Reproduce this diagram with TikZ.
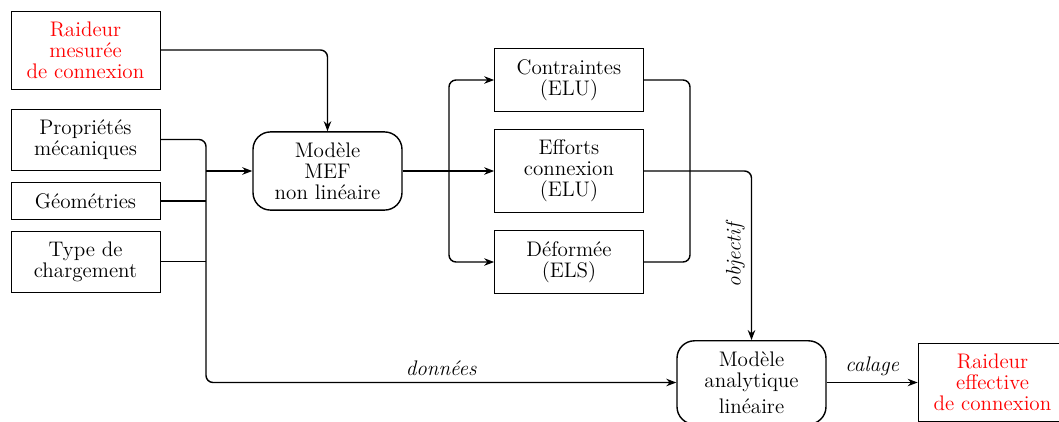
\documentclass[tikz,border=0pt]{standalone}
\usepackage{xcolor}
\usepackage{tikz}
\usetikzlibrary{arrows.meta,positioning,calc}

\begin{document}
\begin{tikzpicture}[
  every node/.style={font=\fontsize{12}{12}\selectfont},
  boite/.style={draw,align=center,minimum width=2.98cm,inner xsep=3pt,inner ysep=6pt},
  boitearrondie/.style={draw,thick,rounded corners=3.5mm,align=center,minimum width=2.98cm,inner xsep=3pt,inner ysep=6pt},
  ligne/.style={thick,rounded corners=4pt},
  fleche/.style={thick,rounded corners=4pt,-{Stealth[length=2mm]}},
  etiq/.style={font=\fontsize{12}{12}\selectfont\itshape}]
  \useasboundingbox (0,0) rectangle (21.18,-8.42);
  % entrees
  \node[boite,text=red] (mesuree) at (1.71,-1.00) {Raideur\\mesurée\\de connexion};
  \node[boite] (proprietes) at (1.71,-2.79) {Propriétés\\mécaniques};
  \node[boite] (geometries) at (1.71,-4.02) {Géométries};
  \node[boite] (chargement) at (1.71,-5.23) {Type de\\chargement};
  % modeles
  \node[boitearrondie] (mef) at (6.55,-3.42) {Modèle\\MEF\\non linéaire};
  \node[boitearrondie] (analytique) at (15.03,-7.65) {Modèle\\analytique\\[3pt]linéaire};
  % sorties
  \node[boite] (contraintes) at (11.38,-1.60) {Contraintes\\(ELU)};
  \node[boite] (efforts) at (11.38,-3.42) {Efforts\\connexion\\(ELU)};
  \node[boite] (deformee) at (11.38,-5.24) {Déformée\\(ELS)};
  \node[boite,text=red] (effective) at (19.85,-7.65) {Raideur\\effective\\de connexion};
  \coordinate (jonction) at (4.12,-3.42);
  \coordinate (split) at (8.98,-3.42);
  \coordinate (crochet) at (13.80,-3.42);
  \draw[fleche] (mesuree.east) -| (mef.north);
  \draw[fleche] (proprietes.east) -| (jonction) |- (analytique.west)
    node[etiq,pos=0.75,above] {données};
  \draw[ligne] (geometries.east) -- (geometries.east -| jonction);
  \draw[ligne] (chargement.east) -- (chargement.east -| jonction);
  \draw[fleche] (jonction) -- (mef.west);
  \draw[fleche] (mef.east) -- (efforts.west);
  \draw[fleche] (split) |- (contraintes.west);
  \draw[fleche] (split) |- (deformee.west);
  \draw[ligne] (contraintes.east) -| (crochet) |- (deformee.east);
  \draw[fleche] (efforts.east) -| (analytique.north)
    node[etiq,pos=0.75,rotate=90,anchor=south] {objectif};
  \draw[fleche] (analytique.east) -- (effective.west)
    node[etiq,midway,above] {calage};
\end{tikzpicture}
\end{document}
